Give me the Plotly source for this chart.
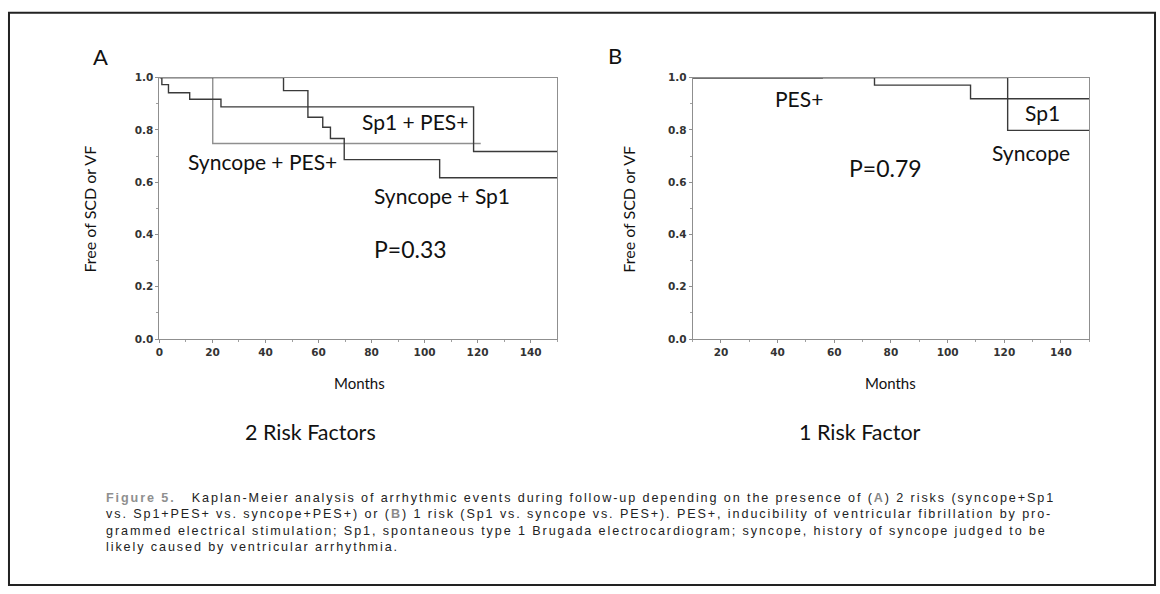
import plotly.graph_objects as go

W, H = 1160, 594

# ---- data ----
# Panel A: 2 risk factors (Kaplan-Meier step curves)
a_sp1_pes_t = [0, 0.9, 3.4, 11.4, 23.2, 118.5, 150]
a_sp1_pes_s = [1.0, 0.973, 0.942, 0.917, 0.888, 0.717, 0.717]
a_syn_sp1_t = [0, 46.8, 56.0, 61.6, 64.5, 69.7, 105.7, 150]
a_syn_sp1_s = [1.0, 0.950, 0.848, 0.810, 0.767, 0.686, 0.617, 0.617]
a_syn_pes_t = [0, 20.1, 121.2]
a_syn_pes_s = [1.0, 0.748, 0.748]

# Panel B: 1 risk factor
b_pes_t = [10, 56]
b_pes_s = [1.0, 1.0]
b_sp1_t = [10, 74.2, 108.1, 150]
b_sp1_s = [1.0, 0.971, 0.919, 0.919]
b_syn_t = [10, 121.2, 150]
b_syn_s = [1.0, 0.798, 0.798]

x_ticks_a = [0, 20, 40, 60, 80, 100, 120, 140]
x_ticks_b = [20, 40, 60, 80, 100, 120, 140]
y_ticks = [0.0, 0.2, 0.4, 0.6, 0.8, 1.0]


def px(x):
    return x / W


def py(y):
    return 1 - y / H


fig = go.Figure()

dark = "#3a3a3a"
light = "#8f8f8f"


def km(x, y, color, xa, ya, width=1.4):
    fig.add_trace(go.Scatter(x=x, y=y, mode="lines", line=dict(color=color, width=width, shape="hv"),
                             xaxis=xa, yaxis=ya, showlegend=False, hoverinfo="skip"))


km(a_syn_pes_t, a_syn_pes_s, light, "x", "y")
km(a_sp1_pes_t, a_sp1_pes_s, dark, "x", "y")
km(a_syn_sp1_t, a_syn_sp1_s, dark, "x", "y")

km(b_pes_t, b_pes_s, dark, "x2", "y2", 2.0)
km(b_sp1_t, b_sp1_s, dark, "x2", "y2")
km(b_syn_t, b_syn_s, dark, "x2", "y2")

ax_common = dict(showgrid=False, zeroline=False, showline=True, linecolor="#8f8f8f", linewidth=1,
                 mirror=True, ticks="outside", ticklen=3, tickcolor="#8f8f8f",
                 tickfont=dict(family="DejaVu Sans", size=10.5, color="#333", weight="bold"))


def minor(d):
    return dict(ticks="outside", ticklen=2, tickcolor="#a0a0a0", dtick=d, tick0=0)


ya_dom = [py(340), py(73)]

fig.update_layout(
    width=W, height=H, margin=dict(l=0, r=0, t=0, b=0),
    paper_bgcolor="white", plot_bgcolor="white",
    xaxis=dict(domain=[px(156), px(555)], range=[0, 150], tickvals=x_ticks_a,
               ticktext=[str(v) for v in x_ticks_a], anchor="y", minor=minor(10), **ax_common),
    yaxis=dict(domain=ya_dom, range=[0, 1], tickvals=y_ticks,
               ticktext=[f"{v:.1f}" for v in y_ticks], anchor="x", minor=minor(0.1), **ax_common),
    xaxis2=dict(domain=[px(691), px(1089)], range=[10, 150], tickvals=x_ticks_b,
                ticktext=[str(v) for v in x_ticks_b], anchor="y2", minor=minor(10), **ax_common),
    yaxis2=dict(domain=ya_dom, range=[0, 1], tickvals=y_ticks,
                ticktext=[f"{v:.1f}" for v in y_ticks], anchor="x2", minor=minor(0.1), **ax_common),
)

lab_font = dict(family="Lato", size=21, color="#111")
p_font = dict(family="Lato", size=23, color="#111")
ann = []


def data_text(text, x, y, xr, yr, font=lab_font):
    ann.append(dict(text=text, x=x, y=y, xref=xr, yref=yr, showarrow=False, font=font,
                    xanchor="center", yanchor="middle"))


data_text("Sp1 + PES+", 96.4, 0.83, "x", "y")
data_text("Syncope + PES+", 38.7, 0.68, "x", "y")
data_text("Syncope + Sp1", 106.4, 0.549, "x", "y")
data_text("P=0.33", 94.6, 0.344, "x", "y", p_font)

data_text("PES+", 47.6, 0.921, "x2", "y2")
data_text("Sp1", 133.4, 0.868, "x2", "y2")
data_text("Syncope", 129.4, 0.712, "x2", "y2")
data_text("P=0.79", 78.1, 0.654, "x2", "y2", p_font)


def paper_text(text, x, y, font, xanchor="center", yanchor="middle", textangle=0, align="center"):
    ann.append(dict(text=text, x=px(x), y=py(y), xref="paper", yref="paper", showarrow=False,
                    font=font, xanchor=xanchor, yanchor=yanchor, textangle=textangle, align=align))


paper_text("A", 97, 52, dict(family="Lato", size=22, color="#111"))
paper_text("B", 613, 51, dict(family="Lato", size=22, color="#111"))

axt = dict(family="Lato", size=16, color="#111")
paper_text("Free of SCD or VF", 86, 207, axt, textangle=-90)
paper_text("Free of SCD or VF", 627, 207, axt, textangle=-90)
paper_text("Months", 357, 385, dict(family="Lato", size=15, color="#111"))
paper_text("Months", 890, 385, dict(family="Lato", size=15, color="#111"))

rf = dict(family="Lato", size=21.5, color="#111")
paper_text("2 Risk Factors", 308, 435, rf)
paper_text("1 Risk Factor", 859, 435, rf)

# caption: one multi-line text, widened with letter spacing like the justified original
cap = dict(family="Liberation Sans", size=12.6, color="#222")
ls = "letter-spacing:1.9px"


def sp(t, extra=""):
    return "<span style='" + ls + extra + "'>" + t + "</span>"


gA = "<b>" + sp("A", ";color:#8a8a8a") + "</b>"
gB = "<b>" + sp("B", ";color:#8a8a8a") + "</b>"
line1 = "<b>" + sp("Figure 5.", ";color:#8f8f8f") + "</b>" + \
        sp("&nbsp;&nbsp;&nbsp;Kaplan-Meier analysis of arrhythmic events during follow-up depending on the presence of (") + \
        gA + sp(") 2 risks (syncope+Sp1")
line2 = sp("vs. Sp1+PES+ vs. syncope+PES+) or (") + gB + \
        sp(") 1 risk (Sp1 vs. syncope vs. PES+). PES+, inducibility of ventricular fibrillation by pro-")
line3 = sp("grammed electrical stimulation; Sp1, spontaneous type 1 Brugada electrocardiogram; syncope, history of syncope judged to be")
line4 = sp("likely caused by ventricular arrhythmia.")
paper_text("<br>".join([line1, line2, line3, line4]), 100, 527, cap, xanchor="left", align="left")

fig.update_layout(annotations=ann)

# outer frame
fig.add_shape(type="rect", xref="paper", yref="paper", x0=px(5), x1=px(1155), y0=py(591), y1=py(7),
              line=dict(color="#222", width=2), fillcolor="rgba(0,0,0,0)", layer="above")

fig.write_html("out.html")
